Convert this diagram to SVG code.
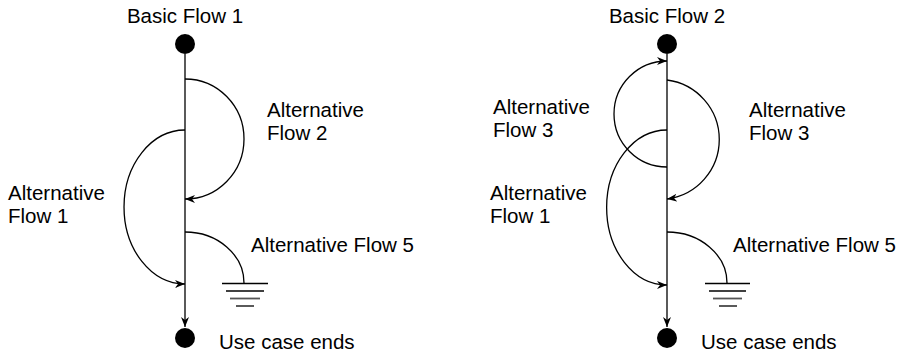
<svg xmlns="http://www.w3.org/2000/svg" width="903" height="353" viewBox="0 0 903 353">
<style>
text{font-family:"Liberation Sans",Arial,sans-serif;font-size:20.5px;fill:#000}
.c{fill:none;stroke:#000;stroke-width:1.3}
.g{stroke:#000;stroke-width:1.3}
.g2{stroke:#555;stroke-width:1.8}
.dot{fill:#000}
</style>
<defs>
<marker id="arr" viewBox="0 0 10 8" refX="10" refY="4" markerWidth="10" markerHeight="8" markerUnits="userSpaceOnUse" orient="auto">
<path d="M0,0 L10,4 L0,8 L3,4 z" fill="#000"/>
</marker>
</defs>
<g id="connectors">
<path class="c" d="M185,54 L185,327" marker-end="url(#arr)"/>
<path class="c" d="M185,79 A59,60 0 0 1 185,199" marker-end="url(#arr)"/>
<path class="c" d="M185,130 A61,77 0 0 0 185,284" marker-end="url(#arr)"/>
<path class="c" d="M185,232 A59,51 0 0 1 244,283"/>
<path class="c" d="M667,54 L667,327" marker-end="url(#arr)"/>
<path class="c" d="M667,80 A60,60 0 0 1 667,199" marker-end="url(#arr)"/>
<path class="c" d="M667,167 A53,53 0 0 1 667,61" marker-end="url(#arr)"/>
<path class="c" d="M667,130 A60,77 0 0 0 667,285" marker-end="url(#arr)"/>
<path class="c" d="M667,232 A60,51 0 0 1 727,283"/>
</g>
<g id="start1"><circle class="dot" cx="185" cy="44" r="10"/><text x="185" y="23" text-anchor="middle">Basic Flow 1</text></g>
<g id="end1"><circle class="dot" cx="185" cy="338" r="10"/><text x="219" y="349">Use case ends</text></g>
<g id="ground1">
<line class="g" x1="222" y1="283.5" x2="268" y2="283.5"/>
<line class="g" x1="226" y1="291" x2="264" y2="291"/>
<line class="g2" x1="230" y1="298.5" x2="260" y2="298.5"/>
<line class="g" x1="236" y1="306" x2="254" y2="306"/>
</g>
<g id="start2"><circle class="dot" cx="667" cy="44" r="10"/><text x="667" y="23" text-anchor="middle">Basic Flow 2</text></g>
<g id="end2"><circle class="dot" cx="667" cy="338" r="10"/><text x="701" y="349">Use case ends</text></g>
<g id="ground2">
<line class="g" x1="705" y1="283.5" x2="750" y2="283.5"/>
<line class="g" x1="709" y1="291" x2="746" y2="291"/>
<line class="g2" x1="713" y1="298.5" x2="742" y2="298.5"/>
<line class="g" x1="719" y1="306" x2="737" y2="306"/>
</g>
<g id="labels">
<text x="267" y="117">Alternative</text><text x="267" y="140">Flow 2</text>
<text x="8" y="200">Alternative</text><text x="8" y="223">Flow 1</text>
<text x="251" y="252">Alternative Flow 5</text>
<text x="749" y="117">Alternative</text><text x="749" y="140">Flow 3</text>
<text x="493" y="114">Alternative</text><text x="493" y="137">Flow 3</text>
<text x="490" y="200">Alternative</text><text x="490" y="223">Flow 1</text>
<text x="733" y="252">Alternative Flow 5</text>
</g>
</svg>
